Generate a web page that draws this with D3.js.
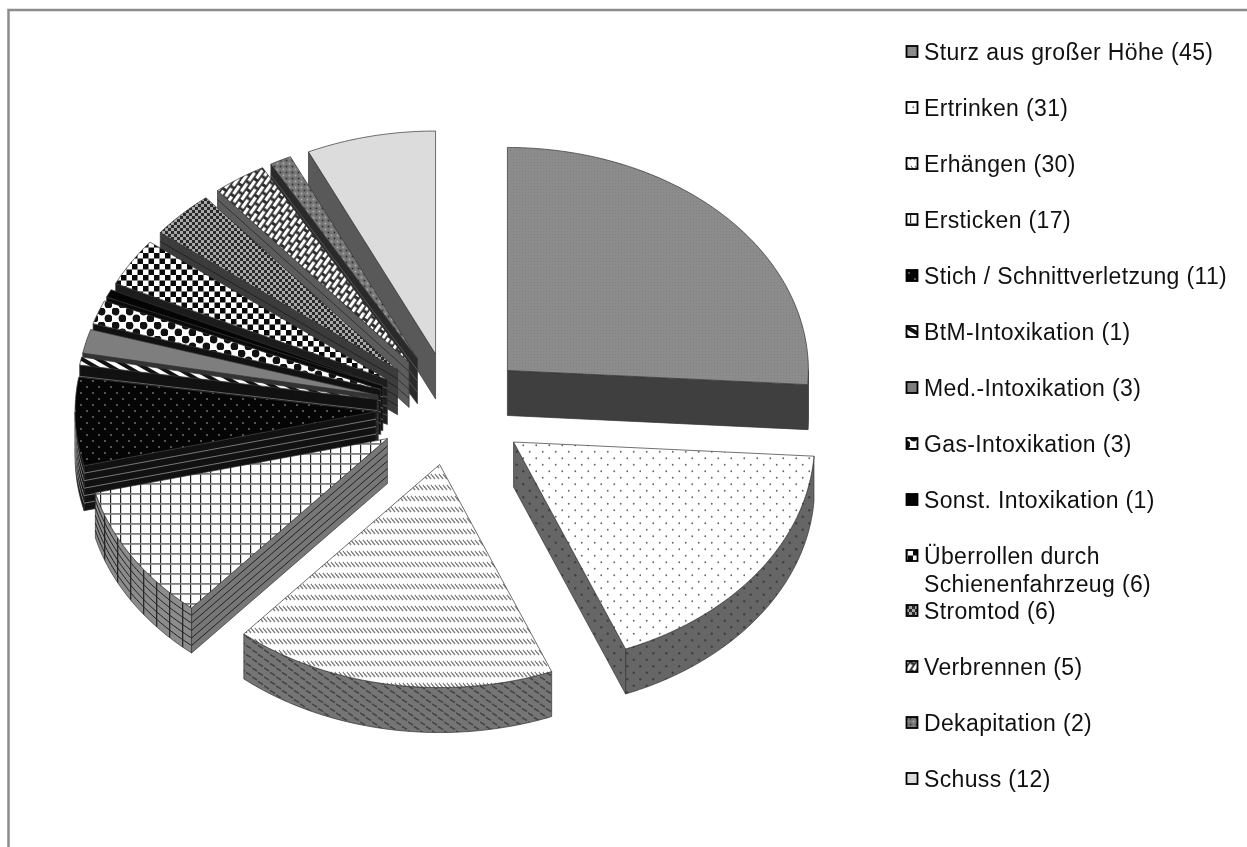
<!DOCTYPE html>
<html><head><meta charset="utf-8">
<script src="https://cdn.jsdelivr.net/npm/d3@7/dist/d3.min.js"></script>
<style>html,body{margin:0;background:#fff}svg{display:block;filter:blur(.45px)}</style>
</head><body><svg id="c" width="1247" height="847"></svg>
<script>
const categories=["Sturz aus großer Höhe","Ertrinken","Erhängen","Ersticken","Stich / Schnittverletzung","BtM-Intoxikation","Med.-Intoxikation","Gas-Intoxikation","Sonst. Intoxikation","Überrollen durch\nSchienenfahrzeug","Stromtod","Verbrennen","Dekapitation","Schuss"];
const values=[45,31,30,17,11,1,3,3,1,6,6,5,2,12];

const W=1247,H=847,rx=301,ry=223,depth=45,explode=76,cx=452,cy=409;
const svg=d3.select("#c");
const defs=svg.append("defs");
function pat(id,w,h,bg,draw,tf){
  const p=defs.append("pattern").attr("id",id).attr("patternUnits","userSpaceOnUse").attr("width",w).attr("height",h);
  if(tf)p.attr("patternTransform",tf);
  p.append("rect").attr("width",w).attr("height",h).attr("fill",bg);
  draw(p);
}
const r=(p,x,y,w,h,f)=>p.append("rect").attr("x",x).attr("y",y).attr("width",w).attr("height",h).attr("fill",f);
const c=(p,x,y,rr,f)=>p.append("circle").attr("cx",x).attr("cy",y).attr("r",rr).attr("fill",f);
const l=(p,x1,y1,x2,y2,s,w)=>p.append("line").attr("x1",x1).attr("y1",y1).attr("x2",x2).attr("y2",y2).attr("stroke",s).attr("stroke-width",w);
function dots(id,bg,fg,w,h,rad){pat(id,w,h,bg,p=>{c(p,w/4,h/4,rad,fg);c(p,3*w/4,3*h/4,rad,fg);});}
function checker(id,a,b,s){pat(id,2*s,2*s,a,p=>{r(p,0,0,s,s,b);r(p,s,s,s,s,b);});}
const solid=(id,col)=>pat(id,4,4,col,()=>{});

// top surfaces
pat("t0",3,3,"#8c8c8c",p=>{r(p,0,0,1,1,"#808080");});
dots("t1","#fff","#666",13,13,.9);
pat("t2",4,11,"#fff",p=>{l(p,-1,1,3,6,"#808080",1.4);l(p,3,1,7,6,"#808080",1.4);});
pat("t3",10,10,"#fff",p=>{r(p,0,0,1.2,10,"#222");r(p,0,3,10,1.8,"#808080");});
dots("t4","#050505","#bbb",12,12,.8);
pat("t5",8,8,"#fff",p=>{r(p,0,0,4,8,"#111");},"rotate(-60)");
solid("t6","#7e7e7e");
pat("t7",14,14,"#fff",p=>{c(p,3.5,3.5,3.9,"#111");c(p,10.5,10.5,3.9,"#111");});
solid("t8","#050505");
checker("t9","#fff","#0a0a0a",5.5);
checker("t10","#a8a8a8","#2a2a2a",3);
pat("t11",13,10,"#303030",p=>{r(p,1,1,10,3.2,"#fff");r(p,7.5,6,5.5,3.2,"#fff");r(p,0,6,4.5,3.2,"#fff");},"rotate(-55)");
pat("t12",6,6,"#777",p=>{c(p,1.5,1.5,1,"#aaa");c(p,4.5,4.5,1,"#333");});
solid("t13","#dcdcdc");
// wall fills
solid("w0","#3f3f3f");
dots("w1","#666","#404040",13,13,1.2);
pat("w2",12,9,"#757575",p=>{l(p,0,2,5,5,"#444",1.5);l(p,6,6.5,11,9.5,"#444",1.5);l(p,6,-2.5,11,.5,"#444",1.5);});
pat("w3",13,13,"#8c8c8c",p=>{r(p,0,0,1.3,13,"#2a2a2a");});
solid("w3r","#777");
solid("w4","#111");solid("w5","#111");solid("w6","#333");solid("w7","#111");solid("w8","#0a0a0a");
solid("w9","#1c1c1c");solid("w10","#3c3c3c");solid("w11","#5c5c5c");solid("w12","#2a2a2a");solid("w13","#595959");
const strataColor=[null,null,null,"#222","#777","#666","#555","#666","#777","#555","#222","#333","#555",null];
const strataCount=[0,0,0,5,5,3,3,3,3,4,4,4,3,0];

const pie=d3.pie().value(d=>d).sort(null).startAngle(0).endAngle(2*Math.PI);
const arcs=pie(values);
const px=(ax,a)=>ax+rx*Math.sin(a);
const py=(ay,a)=>ay-ry*Math.cos(a);
const line=d3.line();
const slices=arcs.map((d,i)=>{
  const m=(d.startAngle+d.endAngle)/2;
  return {i,a0:d.startAngle,a1:d.endAngle,ax:cx+explode*Math.sin(m),ay:cy-explode*(ry/rx)*Math.cos(m)};
});
const rimPts=(s,dy,a0,a1)=>{
  const n=Math.max(2,Math.ceil((a1-a0)*60));
  return d3.range(n+1).map(k=>{const a=a0+(a1-a0)*k/n;return [px(s.ax,a),py(s.ay,a)+dy];});
};
const order=[13,12,11,10,9,8,7,6,5,4,3,0,1,2];
const g=svg.append("g");
const edge="#333";
function wallFace(sg,s,pts,strataPts,fill){
  sg.append("path").attr("d",line(pts)+"Z").attr("fill",fill).attr("stroke",edge).attr("stroke-width",.7).attr("stroke-linejoin","round");
  const nS=strataCount[s.i];
  for(let k=1;k<=nS;k++){
    const dy=depth*k/(nS+1);
    sg.append("path").attr("d",line(strataPts.map(p=>[p[0],p[1]+dy]))).attr("fill","none").attr("stroke",strataColor[s.i]).attr("stroke-width",1);
  }
}
order.forEach(i=>{
  const s=slices[i],sg=g.append("g");
  const lo=Math.max(s.a0,Math.PI/2),hi=Math.min(s.a1,3*Math.PI/2);
  if(hi>lo){
    const top=rimPts(s,0,lo,hi),bot=rimPts(s,depth,lo,hi).reverse();
    wallFace(sg,s,top.concat(bot),top,`url(#w${i})`);
  }
  const radial=a=>{
    const o=[s.ax,s.ay],e=[px(s.ax,a),py(s.ay,a)];
    wallFace(sg,s,[o,e,[e[0],e[1]+depth],[o[0],o[1]+depth]],[o,e],i===3?"url(#w3r)":`url(#w${i})`);
  };
  if(Math.sin(s.a0)<-1e-6)radial(s.a0);
  if(Math.sin(s.a1)>1e-6)radial(s.a1);
  const outline=[[s.ax,s.ay]].concat(rimPts(s,0,s.a0,s.a1));
  sg.append("path").attr("d",line(outline)+"Z").attr("fill",`url(#t${i})`).attr("stroke",edge).attr("stroke-width",.7).attr("stroke-linejoin","round");
});

// frame: left and top edges only, running off the picture
svg.append("path").attr("d",`M8.5 ${H}V10H${W}`).attr("fill","none").attr("stroke","#8c8c8c").attr("stroke-width",2.5);

// legend
const legendY=d3.scalePoint().domain(d3.range(10)).range([52,556]);
const ly=i=>i<=9?legendY(i):611+(i-10)*56;
const leg=svg.append("g").attr("font-family","Liberation Sans, Arial, sans-serif").attr("font-size",23).attr("letter-spacing",.36).attr("fill","#111");
categories.forEach((name,i)=>{
  const y=ly(i);
  leg.append("rect").attr("x",906.5).attr("y",y-6).attr("width",11).attr("height",11).attr("fill",`url(#t${i})`).attr("stroke","#000").attr("stroke-width",1.8);
  const lines=(name+" ("+values[i]+")").split("\n");
  lines.forEach((t,k)=>leg.append("text").attr("x",924).attr("y",y+8+k*28).text(t));
});
</script></body></html>
